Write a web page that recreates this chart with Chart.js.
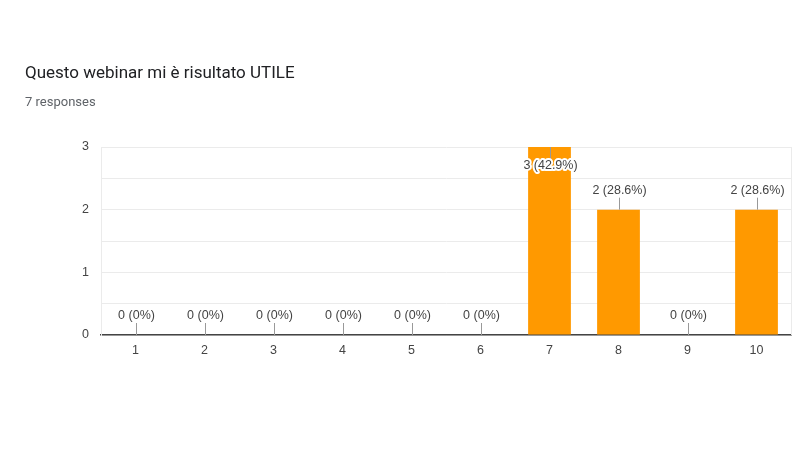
<!DOCTYPE html>
<html>
<head>
<meta charset="utf-8">
<script src="https://cdn.jsdelivr.net/npm/chart.js@4/dist/chart.umd.min.js"></script>
<style>
  html, body { margin: 0; padding: 0; background: #fff; }
  #wrap { position: relative; width: 800px; height: 450px; }
  #titolo { position: absolute; left: 25px; top: 62px; font: 17px Roboto, sans-serif; color: #202124; }
  #risposte { position: absolute; left: 25px; top: 94px; font: 13px Roboto, sans-serif; color: #5f6368; }
  canvas { position: absolute; left: 0; top: 0; }
</style>
</head>
<body>
<div id="wrap">
  <canvas id="grafico" width="800" height="450"></canvas>
  <div id="titolo">Questo webinar mi è risultato UTILE</div>
  <div id="risposte">7 responses</div>
</div>
<script>
// dati
const categorie = ['1', '2', '3', '4', '5', '6', '7', '8', '9', '10'];
const risposte = [0, 0, 0, 0, 0, 0, 3, 2, 0, 2];
const etichette = ['0 (0%)', '0 (0%)', '0 (0%)', '0 (0%)', '0 (0%)', '0 (0%)', '3 (42.9%)', '2 (28.6%)', '0 (0%)', '2 (28.6%)'];

const fontAsse = { family: '"Liberation Sans", Arial, sans-serif', size: 12.5 };

// etichette sopra le barre con trattino
const annotazioni = {
  id: 'annotazioni',
  afterDatasetsDraw(chart) {
    const ctx = chart.ctx;
    const area = chart.chartArea;
    const x = chart.scales.x, y = chart.scales.y;
    ctx.save();
    // bordo destro
    ctx.strokeStyle = '#ebebeb';
    ctx.lineWidth = 1;
    ctx.beginPath();
    ctx.moveTo(area.right + 0.5, area.top);
    ctx.lineTo(area.right + 0.5, area.bottom);
    ctx.stroke();

    ctx.font = '12.5px "Liberation Sans", Arial, sans-serif';
    ctx.textAlign = 'center';
    ctx.textBaseline = 'middle';
    risposte.forEach((v, i) => {
      const cx = Math.round(x.getPixelForValue(i)) + 0.5;
      const top = y.getPixelForValue(v);
      let l1, l2, ty;
      if (top - 26 < area.top) {
        l1 = top; l2 = top + 13; ty = top + 19;
      } else {
        l1 = top - 12; l2 = top; ty = top - 19;
      }
      ctx.strokeStyle = '#999';
      ctx.lineWidth = 1;
      ctx.beginPath();
      ctx.moveTo(cx, l1);
      ctx.lineTo(cx, l2);
      ctx.stroke();
      ctx.lineWidth = 4;
      ctx.lineJoin = 'round';
      ctx.strokeStyle = '#fff';
      ctx.strokeText(etichette[i], cx, ty);
      ctx.fillStyle = '#444';
      ctx.fillText(etichette[i], cx, ty);
    });
    ctx.restore();
  }
};

new Chart(document.getElementById('grafico'), {
  type: 'bar',
  data: {
    labels: categorie,
    datasets: [{
      data: risposte,
      backgroundColor: '#ff9900',
      categoryPercentage: 1,
      barPercentage: 0.62
    }]
  },
  options: {
    responsive: false,
    animation: false,
    layout: { padding: { top: 147, right: 9, left: 0, bottom: 0 } },
    plugins: { legend: { display: false }, tooltip: { enabled: false } },
    scales: {
      x: {
        afterFit(s) { s.height = 115; },
        grid: { display: false, drawTicks: false },
        border: { color: '#444', width: 1.5 },
        ticks: { padding: 8, color: '#444', font: fontAsse }
      },
      y: {
        min: 0, max: 3,
        afterFit(s) { s.width = 101; },
        grid: { color: '#ebebeb', drawTicks: false },
        border: { color: '#ebebeb' },
        ticks: {
          stepSize: 0.5,
          padding: 12,
          color: '#444',
          font: fontAsse,
          callback: v => Number.isInteger(v) ? v : ''
        }
      }
    }
  },
  plugins: [annotazioni]
});
</script>
</body>
</html>
